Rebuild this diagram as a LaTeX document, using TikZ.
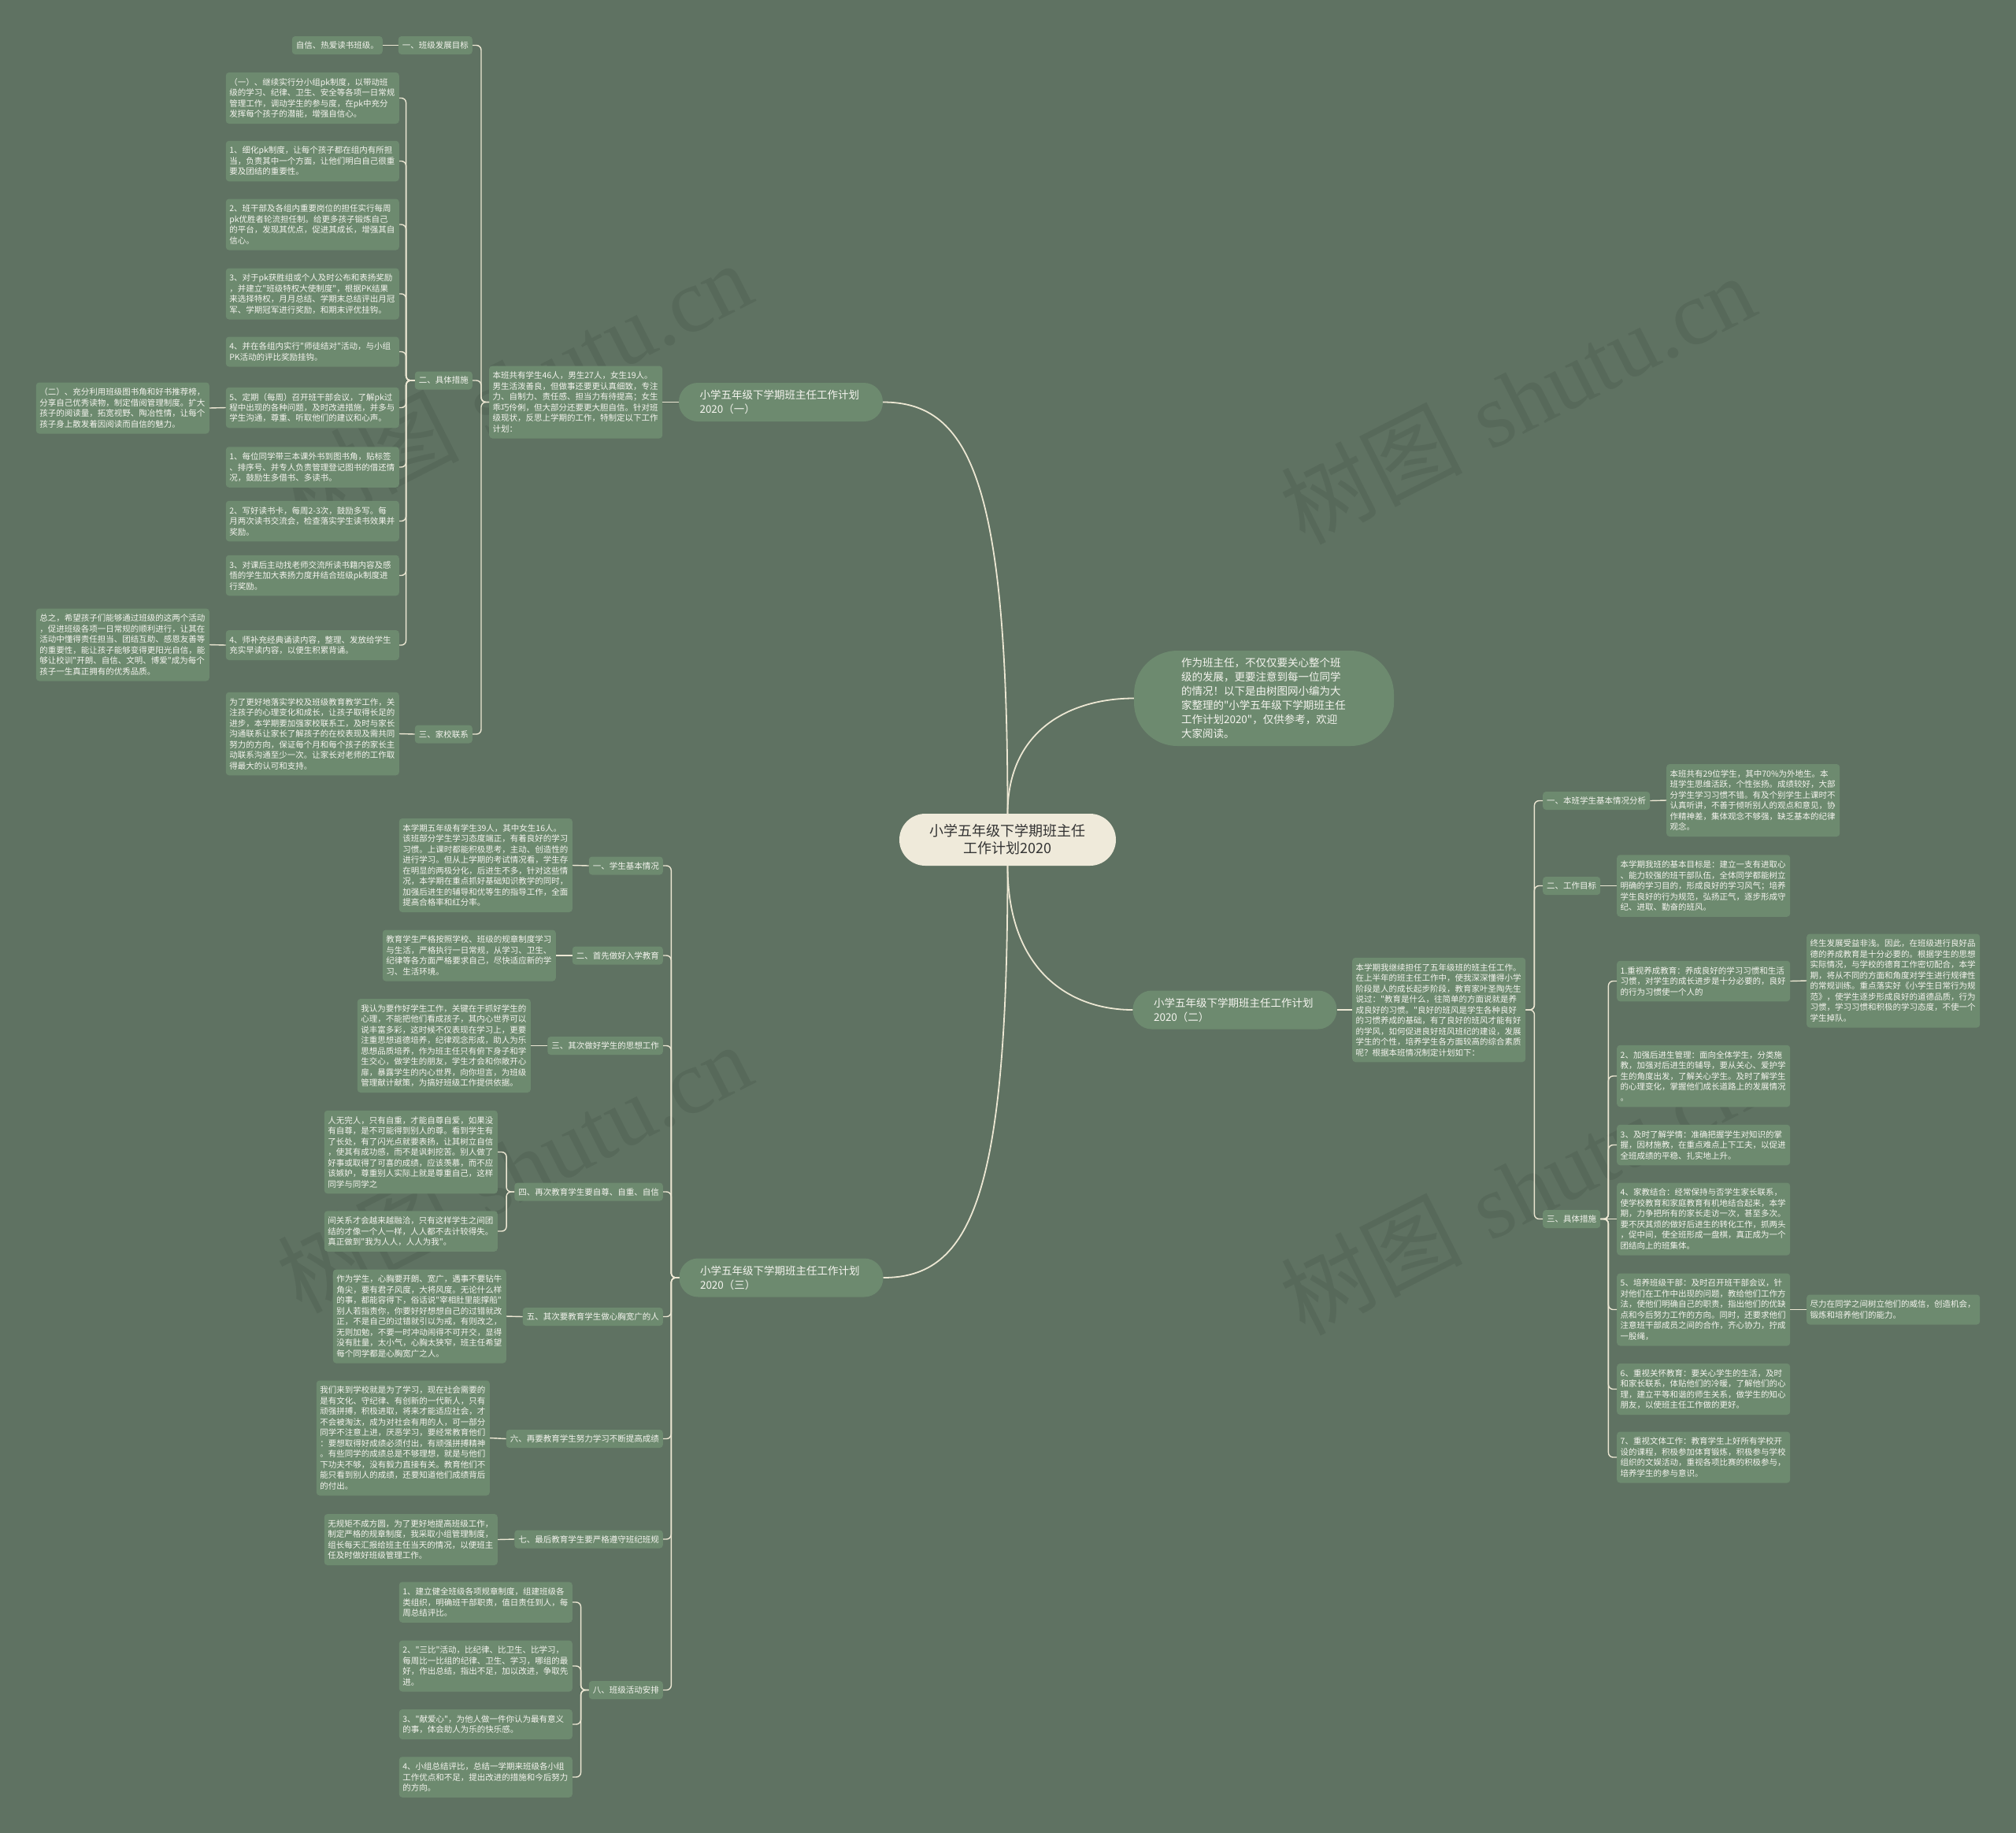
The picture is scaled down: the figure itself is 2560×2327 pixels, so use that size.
\documentclass[tikz,border=0pt]{standalone}
\usepackage{fontspec}
\newfontfamily\cjk{Noto Sans CJK SC}
\newfontfamily\wmlatin{Liberation Serif}
\definecolor{bg}{HTML}{5F7262}
\definecolor{nodefill}{HTML}{6D8A6F}
\definecolor{linecol}{HTML}{ECE7D3}
\definecolor{txt}{HTML}{F4F4EE}
\definecolor{cream}{HTML}{EFEADA}
\definecolor{darktxt}{HTML}{333333}
\newcommand\mystrA{\rule[-2.76pt]{0pt}{13.5pt}}
\newcommand\mystrB{\rule[-3.87pt]{0pt}{18pt}}
\newcommand\mystrC{\rule[-4.16pt]{0pt}{22pt}}
\tikzset{
  leaf/.style={fill=nodefill, rounded corners=4pt, text=txt, font=\cjk\fontsize{10.5pt}{13.5pt}\selectfont,
    align=left, text width=211pt, inner xsep=4.5pt, inner ysep=5.5pt,
    execute at begin node=\mystrA, execute at end node=\mystrA},
  lab/.style={fill=nodefill, rounded corners=4pt, text=txt, font=\cjk\fontsize{10.5pt}{13.5pt}\selectfont,
    inner xsep=5pt, inner ysep=4.75pt, execute at begin node=\mystrA},
  titlebox/.style={fill=nodefill, rounded corners=24pt, text=txt, font=\cjk\fontsize{13.5pt}{18pt}\selectfont,
    align=left, text width=206pt, inner xsep=26.5pt, inner ysep=6.5pt,
    execute at begin node=\mystrB, execute at end node=\mystrB},
  introbox/.style={fill=nodefill, rounded corners=55pt, text=txt, font=\cjk\fontsize{13.5pt}{18pt}\selectfont,
    align=left, text width=210pt, inner xsep=60pt, inner ysep=6.5pt,
    execute at begin node=\mystrB, execute at end node=\mystrB},
  rootbox/.style={fill=cream, rounded corners=33pt, text=darktxt, font=\cjk\fontsize{18pt}{22pt}\selectfont,
    align=center, text width=200pt, inner xsep=37.5pt, inner ysep=11pt,
    execute at begin node=\mystrC, execute at end node=\mystrC},
  conn/.style={draw=linecol, line width=1.4pt, rounded corners=6pt},
  curve/.style={draw=linecol, line width=1.8pt},
  wm/.style={rotate=27, text=black, opacity=0.08, font=\fontsize{115pt}{115pt}\selectfont, inner sep=0pt}
}
\begin{document}
\begin{tikzpicture}[x=1pt,y=-1pt]
\fill[bg] (0,0) rectangle (2560,2327);
\useasboundingbox (0,0) rectangle (2560,2327);

% watermarks
\node[wm] (wm1) at (653,490) {{\cjk 树图} {\wmlatin shutu.cn}};
\node[wm] (wm2) at (1927,506) {{\cjk 树图} {\wmlatin shutu.cn}};
\node[wm] (wm3) at (653,1482) {{\cjk 树图} {\wmlatin shutu.cn}};
\node[wm] (wm4) at (1927,1510) {{\cjk 树图} {\wmlatin shutu.cn}};

% root, intro, titles
\node[rootbox] (root) at (1279.5,1066) {小学五年级下学期班主任\\工作计划2020};
\node[introbox] (intro) at (1605,886.5) {作为班主任，不仅仅要关心整个班\\级的发展，更要注意到每一位同学\\的情况！以下是由树图网小编为大\\家整理的"小学五年级下学期班主任\\工作计划2020"，仅供参考，欢迎\\大家阅读。};
\node[titlebox] (p1) at (991.5,510.5) {小学五年级下学期班主任工作计划\\2020（一）};
\node[titlebox] (p2) at (1568,1282) {小学五年级下学期班主任工作计划\\2020（二）};
\node[titlebox] (p3) at (992,1622) {小学五年级下学期班主任工作计划\\2020（三）};

% ---------- plan 1 ----------
\node[leaf, anchor=west] (c1) at (621,510.5) {本班共有学生46人，男生27人，女生19人。\\男生活泼善良，但做事还要更认真细致，专注\\力、自制力、责任感、担当力有待提高；女生\\乖巧伶俐，但大部分还要更大胆自信。针对班\\级现状，反思上学期的工作，特制定以下工作\\计划：};
\node[lab, anchor=east] (b1) at (600,57.5) {一、班级发展目标};
\node[lab, anchor=east] (a1) at (486,57.5) {自信、热爱读书班级。};
\node[lab, anchor=east] (b2) at (600,483) {二、具体措施};
\node[lab, anchor=east] (b3) at (600,932) {三、家校联系};

\node[leaf, anchor=east] (b2a) at (507,124.5) {（一）、继续实行分小组pk制度，以带动班\\级的学习、纪律、卫生、安全等各项一日常规\\管理工作，调动学生的参与度，在pk中充分\\发挥每个孩子的潜能，增强自信心。};
\node[leaf, anchor=east] (b2b) at (507,204.5) {1、细化pk制度，让每个孩子都在组内有所担\\当，负责其中一个方面，让他们明白自己很重\\要及团结的重要性。};
\node[leaf, anchor=east] (b2c) at (507,285) {2、班干部及各组内重要岗位的担任实行每周\\pk优胜者轮流担任制。给更多孩子锻炼自己\\的平台，发现其优点，促进其成长，增强其自\\信心。};
\node[leaf, anchor=east] (b2d) at (507,373) {3、对于pk获胜组或个人及时公布和表扬奖励\\，并建立"班级特权大使制度"，根据PK结果\\来选择特权，月月总结、学期末总结评出月冠\\军、学期冠军进行奖励，和期末评优挂钩。};
\node[leaf, anchor=east] (b2e) at (507,446.5) {4、并在各组内实行"师徒结对"活动，与小组\\PK活动的评比奖励挂钩。};
\node[leaf, anchor=east] (b2f) at (507,517.5) {5、定期（每周）召开班干部会议，了解pk过\\程中出现的各种问题，及时改进措施，并多与\\学生沟通，尊重、听取他们的建议和心声。};
\node[leaf, anchor=east] (b2fL) at (266,518) {（二）、充分利用班级图书角和好书推荐榜，\\分享自己优秀读物，制定借阅管理制度。扩大\\孩子的阅读量，拓宽视野、陶冶性情，让每个\\孩子身上散发着因阅读而自信的魅力。};
\node[leaf, anchor=east] (b2g) at (507,593) {1、每位同学带三本课外书到图书角，贴标签\\、排序号、并专人负责管理登记图书的借还情\\况，鼓励生多借书、多读书。};
\node[leaf, anchor=east] (b2h) at (507,661.5) {2、写好读书卡，每周2-3次，鼓励多写。每\\月两次读书交流会，检查落实学生读书效果并\\奖励。};
\node[leaf, anchor=east] (b2i) at (507,730.5) {3、对课后主动找老师交流所读书籍内容及感\\悟的学生加大表扬力度并结合班级pk制度进\\行奖励。};
\node[leaf, anchor=east] (b2j) at (507,819) {4、师补充经典诵读内容，整理、发放给学生\\充实早读内容，以便生积累背诵。};
\node[leaf, anchor=east] (b2jL) at (266,818.5) {总之，希望孩子们能够通过班级的这两个活动\\，促进班级各项一日常规的顺利进行，让其在\\活动中懂得责任担当、团结互助、感恩友善等\\的重要性，能让孩子能够变得更阳光自信，能\\够让校训"开朗、自信、文明、博爱"成为每个\\孩子一生真正拥有的优秀品质。};
\node[leaf, anchor=east] (b3a) at (507,931.5) {为了更好地落实学校及班级教育教学工作，关\\注孩子的心理变化和成长，让孩子取得长足的\\进步，本学期要加强家校联系工，及时与家长\\沟通联系让家长了解孩子的在校表现及需共同\\努力的方向，保证每个月和每个孩子的家长主\\动联系沟通至少一次。让家长对老师的工作取\\得最大的认可和支持。};

% ---------- plan 3 ----------
\node[lab, anchor=east] (d1) at (842,1099) {一、学生基本情况};
\node[lab, anchor=east] (d2) at (842,1213) {二、首先做好入学教育};
\node[lab, anchor=east] (d3) at (842,1327.5) {三、其次做好学生的思想工作};
\node[lab, anchor=east] (d4) at (842,1513) {四、再次教育学生要自尊、自重、自信};
\node[lab, anchor=east] (d5) at (842,1671.5) {五、其次要教育学生做心胸宽广的人};
\node[lab, anchor=east] (d6) at (842,1826.5) {六、再要教育学生努力学习不断提高成绩};
\node[lab, anchor=east] (d7) at (842,1954) {七、最后教育学生要严格遵守班纪班规};
\node[lab, anchor=east] (d8) at (842,2145.5) {八、班级活动安排};

\node[leaf, anchor=east] (d1c) at (727,1098.5) {本学期五年级有学生39人，其中女生16人。\\该班部分学生学习态度端正，有着良好的学习\\习惯。上课时都能积极思考，主动、创造性的\\进行学习。但从上学期的考试情况看，学生存\\在明显的两极分化，后进生不多，针对这些情\\况，本学期在重点抓好基础知识教学的同时，\\加强后进生的辅导和优等生的指导工作，全面\\提高合格率和红分率。};
\node[leaf, anchor=east] (d2c) at (706,1213) {教育学生严格按照学校、班级的规章制度学习\\与生活，严格执行一日常规，从学习、卫生、\\纪律等各方面严格要求自己，尽快适应新的学\\习、生活环境。};
\node[leaf, anchor=east] (d3c) at (674,1327.5) {我认为要作好学生工作，关键在于抓好学生的\\心理，不能把他们看成孩子，其内心世界可以\\说丰富多彩，这时候不仅表现在学习上，更要\\注重思想道德培养，纪律观念形成，助人为乐\\思想品质培养，作为班主任只有俯下身子和学\\生交心，做学生的朋友，学生才会和你敞开心\\扉，暴露学生的内心世界，向你坦言，为班级\\管理献计献策，为搞好班级工作提供依据。};
\node[leaf, anchor=east] (d4a) at (632,1462.5) {人无完人，只有自重，才能自尊自爱，如果没\\有自尊，是不可能得到别人的尊。看到学生有\\了长处，有了闪光点就要表扬，让其树立自信\\，使其有成功感，而不是讽刺挖苦。别人做了\\好事或取得了可喜的成绩，应该羡慕，而不应\\该嫉妒，尊重别人实际上就是尊重自己，这样\\同学与同学之};
\node[leaf, anchor=east] (d4b) at (632,1563) {间关系才会越来越融洽，只有这样学生之间团\\结的才像一个人一样，人人都不去计较得失。\\真正做到"我为人人，人人为我"。};
\node[leaf, anchor=east] (d5c) at (643,1671) {作为学生，心胸要开朗、宽广，遇事不要钻牛\\角尖，要有君子风度，大将风度。无论什么样\\的事，都能容得下，俗话说"宰相肚里能撑船"\\别人若指责你，你要好好想想自己的过错就改\\正，不是自己的过错就引以为戒，有则改之，\\无则加勉，不要一时冲动闹得不可开交，显得\\没有肚量，太小气，心胸太狭窄，班主任希望\\每个同学都是心胸宽广之人。};
\node[leaf, anchor=east] (d6c) at (622,1825.5) {我们来到学校就是为了学习，现在社会需要的\\是有文化、守纪律、有创新的一代新人，只有\\顽强拼搏，积极进取，将来才能适应社会，才\\不会被淘汰，成为对社会有用的人，可一部分\\同学不注意上进，厌恶学习，要经常教育他们\\：要想取得好成绩必须付出，有顽强拼搏精神\\。有些同学的成绩总是不够理想，就是与他们\\下功夫不够，没有毅力直接有关。教育他们不\\能只看到别人的成绩，还要知道他们成绩背后\\的付出。};
\node[leaf, anchor=east] (d7c) at (632,1954.5) {无规矩不成方圆，为了更好地提高班级工作，\\制定严格的规章制度，我采取小组管理制度，\\组长每天汇报给班主任当天的情况，以便班主\\任及时做好班级管理工作。};
\node[leaf, anchor=east] (d8a) at (727,2034) {1、建立健全班级各项规章制度，组建班级各\\类组织，明确班干部职责，值日责任到人，每\\周总结评比。};
\node[leaf, anchor=east] (d8b) at (727,2115) {2、"三比"活动，比纪律、比卫生、比学习，\\每周比一比组的纪律、卫生、学习，哪组的最\\好，作出总结，指出不足，加以改进，争取先\\进。};
\node[leaf, anchor=east] (d8c) at (727,2189) {3、"献爱心"，为他人做一件你认为最有意义\\的事，体会助人为乐的快乐感。};
\node[leaf, anchor=east] (d8d) at (727,2256) {4、小组总结评比，总结一学期来班级各小组\\工作优点和不足，提出改进的措施和今后努力\\的方向。};

% ---------- plan 2 ----------
\node[leaf, anchor=west] (e0) at (1717,1282) {本学期我继续担任了五年级班的班主任工作。\\在上半年的班主任工作中，使我深深懂得小学\\阶段是人的成长起步阶段，教育家叶圣陶先生\\说过："教育是什么，往简单的方面说就是养\\成良好的习惯。"良好的班风是学生各种良好\\的习惯养成的基础，有了良好的班风才能有好\\的学风，如何促进良好班风班纪的建设，发展\\学生的个性，培养学生各方面较高的综合素质\\呢？根据本班情况制定计划如下：};
\node[lab, anchor=west] (f1) at (1959,1016.5) {一、本班学生基本情况分析};
\node[lab, anchor=west] (f2) at (1959,1124.5) {二、工作目标};
\node[lab, anchor=west] (f3) at (1959,1547.5) {三、具体措施};
\node[leaf, anchor=west] (f1c) at (2116,1016) {本班共有29位学生，其中70\%为外地生。本\\班学生思维活跃，个性张扬。成绩较好，大部\\分学生学习习惯不错。有及个别学生上课时不\\认真听讲，不善于倾听别人的观点和意见，协\\作精神差，集体观念不够强，缺乏基本的纪律\\观念。};
\node[leaf, anchor=west] (f2c) at (2053,1124.5) {本学期我班的基本目标是：建立一支有进取心\\、能力较强的班干部队伍，全体同学都能树立\\明确的学习目的，形成良好的学习风气；培养\\学生良好的行为规范，弘扬正气，逐步形成守\\纪、进取、勤奋的班风。};
\node[leaf, anchor=west] (g1) at (2053,1245.5) {1.重视养成教育：养成良好的学习习惯和生活\\习惯，对学生的成长进步是十分必要的，良好\\的行为习惯使一个人的};
\node[leaf, anchor=west] (h1) at (2294,1245) {终生发展受益非浅。因此，在班级进行良好品\\德的养成教育是十分必要的。根据学生的思想\\实际情况，与学校的德育工作密切配合，本学\\期，将从不同的方面和角度对学生进行规律性\\的常规训练。重点落实好《小学生日常行为规\\范》，使学生逐步形成良好的道德品质，行为\\习惯，学习习惯和积极的学习态度，不使一个\\学生掉队。};
\node[leaf, anchor=west] (g2) at (2053,1366) {2、加强后进生管理：面向全体学生，分类施\\教，加强对后进生的辅导，要从关心、爱护学\\生的角度出发，了解关心学生。及时了解学生\\的心理变化，掌握他们成长道路上的发展情况\\。};
\node[leaf, anchor=west] (g3) at (2053,1453.5) {3、及时了解学情：准确把握学生对知识的掌\\握，因材施教，在重点难点上下工夫，以促进\\全班成绩的平稳、扎实地上升。};
\node[leaf, anchor=west] (g4) at (2053,1547.5) {4、家教结合：经常保持与否学生家长联系，\\使学校教育和家庭教育有机地结合起来，本学\\期，力争把所有的家长走访一次，甚至多次。\\要不厌其烦的做好后进生的转化工作，抓两头\\，促中间，使全班形成一盘棋，真正成为一个\\团结向上的班集体。};
\node[leaf, anchor=west] (g5) at (2053,1662.5) {5、培养班级干部：及时召开班干部会议，针\\对他们在工作中出现的问题，教给他们工作方\\法，使他们明确自己的职责，指出他们的优缺\\点和今后努力工作的方向。同时，还要求他们\\注意班干部成员之间的合作，齐心协力，拧成\\一股绳，};
\node[leaf, anchor=west] (h5) at (2294,1662.5) {尽力在同学之间树立他们的威信，创造机会，\\锻炼和培养他们的能力。};
\node[leaf, anchor=west] (g6) at (2053,1763.5) {6、重视关怀教育：要关心学生的生活，及时\\和家长联系，体贴他们的冷暖，了解他们的心\\理，建立平等和谐的师生关系，做学生的知心\\朋友，以使班主任工作做的更好。};
\node[leaf, anchor=west] (g7) at (2053,1850) {7、重视文体工作：教育学生上好所有学校开\\设的课程，积极参加体育锻炼，积极参与学校\\组织的文娱活动，重视各项比赛的积极参与，\\培养学生的参与意识。};

% ---------- curves from root ----------
\draw[curve] (root.north) .. controls (1279.5,615) and (1233,510.5) .. (p1.east);
\draw[curve] (root.north) .. controls (1279.5,926) and (1360,886.5) .. (intro.west);
\draw[curve] (root.south) .. controls (1279.5,1233) and (1359,1282) .. (p2.west);
\draw[curve] (root.south) .. controls (1279.5,1517) and (1234,1622) .. (p3.east);

% ---------- connectors plan 1 ----------
\draw[conn] (p1.west) -- (c1.east);
\foreach \n in {b1,b2,b3} \draw[conn] (c1.west) -- ++(-10,0) |- (\n.east);
\draw[conn] (b1.west) -- (a1.east);
\foreach \n in {b2a,b2b,b2c,b2d,b2e,b2f,b2g,b2h,b2i,b2j} \draw[conn] (b2.west) -- ++(-11,0) |- (\n.east);
\draw[conn] (b2f.west) -- (b2fL.east);
\draw[conn] (b2j.west) -- (b2jL.east);
\draw[conn] (b3.west) -- (b3a.east);

% ---------- connectors plan 3 ----------
\foreach \n in {d1,d2,d3,d4,d5,d6,d7,d8} \draw[conn] (p3.west) -- ++(-10,0) |- (\n.east);
\draw[conn] (d1.west) -- (d1c.east);
\draw[conn] (d2.west) -- (d2c.east);
\draw[conn] (d3.west) -- (d3c.east);
\foreach \n in {d4a,d4b} \draw[conn] (d4.west) -- ++(-10,0) |- (\n.east);
\draw[conn] (d5.west) -- (d5c.east);
\draw[conn] (d6.west) -- (d6c.east);
\draw[conn] (d7.west) -- (d7c.east);
\foreach \n in {d8a,d8b,d8c,d8d} \draw[conn] (d8.west) -- ++(-10,0) |- (\n.east);

% ---------- connectors plan 2 ----------
\draw[conn] (p2.east) -- (e0.west);
\foreach \n in {f1,f2,f3} \draw[conn] (e0.east) -- ++(11,0) |- (\n.west);
\draw[conn] (f1.east) -- (f1c.west);
\draw[conn] (f2.east) -- (f2c.west);
\foreach \n in {g1,g2,g3,g5,g6,g7} \draw[conn] (f3.east) -- ++(10,0) |- (\n.west);
\draw[conn] (f3.east) -- (g4.west);
\draw[conn] (g1.east) -- (h1.west);
\draw[conn] (g5.east) -- (h5.west);
\end{tikzpicture}
\end{document}
